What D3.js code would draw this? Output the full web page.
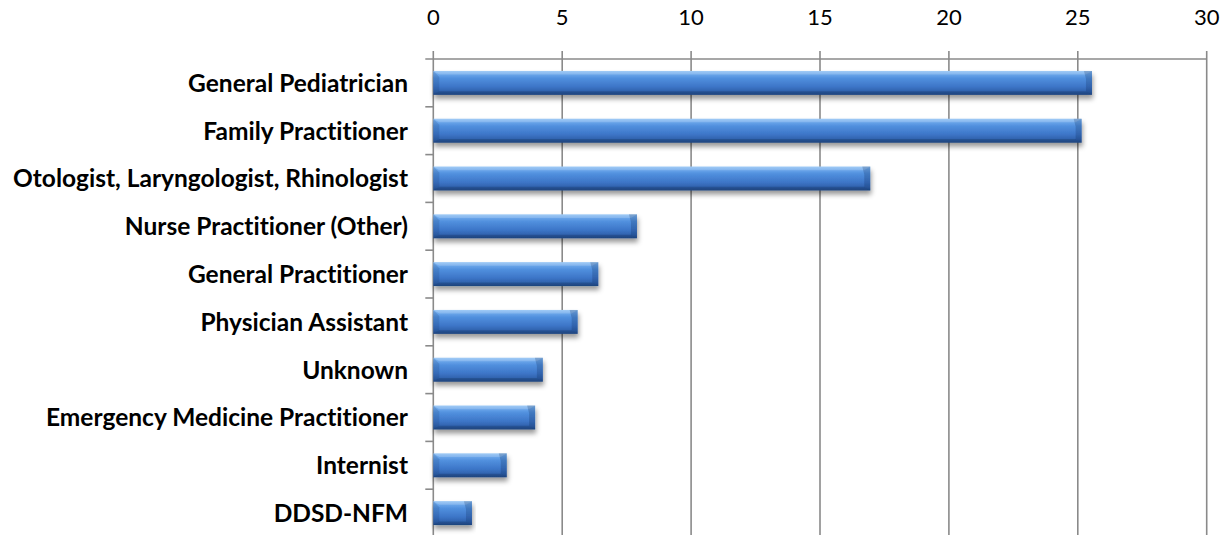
<!DOCTYPE html>
<html>
<head>
<meta charset="utf-8">
<script src="https://cdn.jsdelivr.net/npm/d3@7"></script>
<style>
  html, body { margin: 0; padding: 0; background: #fff; }
  svg { display: block; }
  text { font-variant-ligatures: none; font-feature-settings: "liga" 0; }
</style>
</head>
<body>
<svg id="chart" width="1226" height="535"></svg>
<script>
// Provider types and their share (%)
const categories = [
  "General Pediatrician",
  "Family Practitioner",
  "Otologist, Laryngologist, Rhinologist",
  "Nurse Practitioner (Other)",
  "General Practitioner",
  "Physician Assistant",
  "Unknown",
  "Emergency Medicine Practitioner",
  "Internist",
  "DDSD-NFM"
];
const values = [25.55, 25.15, 16.95, 7.9, 6.4, 5.6, 4.25, 3.95, 2.85, 1.5];
const xTicks = [0, 5, 10, 15, 20, 25, 30];

const svg = d3.select("#chart");
const plotLeft = 433.3, plotRight = 1206.7, plotTop = 59, plotBottom = 537;

const x = d3.scaleLinear().domain([0, 30]).range([plotLeft, plotRight]);
const y = d3.scaleBand().domain(categories).range([plotTop, plotBottom]).paddingInner(0.5).paddingOuter(0.25);

const defs = svg.append("defs");
const grad = defs.append("linearGradient").attr("id", "face")
  .attr("x1", 0).attr("y1", 0).attr("x2", 0).attr("y2", 1);
[[0, "#8cc0f4"], [0.12, "#6ea9ec"], [0.3, "#5190de"], [0.65, "#3d76c8"], [0.85, "#3163ae"], [1, "#244d8c"]]
  .forEach(([o, c]) => grad.append("stop").attr("offset", o).attr("stop-color", c));

const shadow = defs.append("filter").attr("id", "shadow")
  .attr("x", "-5%").attr("y", "-30%").attr("width", "115%").attr("height", "190%");
shadow.append("feDropShadow").attr("dx", 1).attr("dy", 4).attr("stdDeviation", 2.6)
  .attr("flood-color", "#000").attr("flood-opacity", 0.4);

const gridColor = "#8a8a8a";

// vertical gridlines (with tick marks above the top axis)
svg.append("g").selectAll("line").data(xTicks).join("line")
  .attr("x1", d => x(d)).attr("x2", d => x(d))
  .attr("y1", plotTop - 8).attr("y2", plotBottom)
  .attr("stroke", gridColor).attr("stroke-width", 1.6);

// top axis line
svg.append("line")
  .attr("x1", plotLeft - 8).attr("x2", plotRight)
  .attr("y1", plotTop).attr("y2", plotTop)
  .attr("stroke", gridColor).attr("stroke-width", 1.6);

// category tick marks on the left axis
const boundaries = d3.range(categories.length + 1)
  .map(i => plotTop + i * (plotBottom - plotTop) / categories.length);
svg.append("g").selectAll("line").data(boundaries.slice(1)).join("line")
  .attr("x1", plotLeft - 8).attr("x2", plotLeft)
  .attr("y1", d => d).attr("y2", d => d)
  .attr("stroke", gridColor).attr("stroke-width", 1.6);

// x tick labels
svg.append("g").selectAll("text").data(xTicks).join("text")
  .attr("x", d => x(d)).attr("y", 25)
  .attr("text-anchor", "middle")
  .attr("font-family", "Lato, 'Open Sans', sans-serif")
  .attr("font-size", 22)
  .attr("fill", "#000")
  .text(d => d);

// category labels
svg.append("g").selectAll("text").data(categories).join("text")
  .attr("x", 408).attr("y", d => y(d) + y.bandwidth() / 2)
  .attr("dy", "0.36em")
  .attr("text-anchor", "end")
  .attr("font-family", "Lato, 'Open Sans', sans-serif")
  .attr("font-weight", "bold")
  .attr("font-size", 24.5)
  .attr("fill", "#000")
  .text(d => d);

// bevelled bars
const b = 6;
const bars = svg.append("g").selectAll("g").data(categories.map((c, i) => ({ c, v: values[i] })))
  .join("g").attr("filter", "url(#shadow)");

bars.append("rect")
  .attr("x", x(0)).attr("y", d => y(d.c))
  .attr("width", d => x(d.v) - x(0)).attr("height", y.bandwidth())
  .attr("fill", "url(#face)");

function facet(sel, pts, fill, op) {
  sel.append("polygon")
    .attr("points", d => pts(d).map(p => p.join(",")).join(" "))
    .attr("fill", fill).attr("fill-opacity", op);
}
// top highlight
facet(bars, d => {
  const x0 = x(0), x1 = x(d.v), y0 = y(d.c);
  return [[x0, y0], [x1, y0], [x1 - b, y0 + b * 0.6], [x0 + b, y0 + b * 0.6]];
}, "#fff", 0.18);
// bottom shade
facet(bars, d => {
  const x0 = x(0), x1 = x(d.v), y1 = y(d.c) + y.bandwidth();
  return [[x0, y1], [x1, y1], [x1 - b, y1 - b * 0.6], [x0 + b, y1 - b * 0.6]];
}, "#0a2650", 0.25);
// left end facet
facet(bars, d => {
  const x0 = x(0), y0 = y(d.c), y1 = y0 + y.bandwidth();
  return [[x0, y0], [x0 + b, y0 + b], [x0 + b, y1 - b * 0.6], [x0, y1]];
}, "#0a2650", 0.14);
// right end facet
facet(bars, d => {
  const x1 = x(d.v), y0 = y(d.c), y1 = y0 + y.bandwidth();
  return [[x1, y0], [x1 - b - 2, y0], [x1 - b, y0 + b + 2], [x1 - b, y1 - b * 0.6], [x1, y1]];
}, "#0a2650", 0.22);
</script>
</body>
</html>
